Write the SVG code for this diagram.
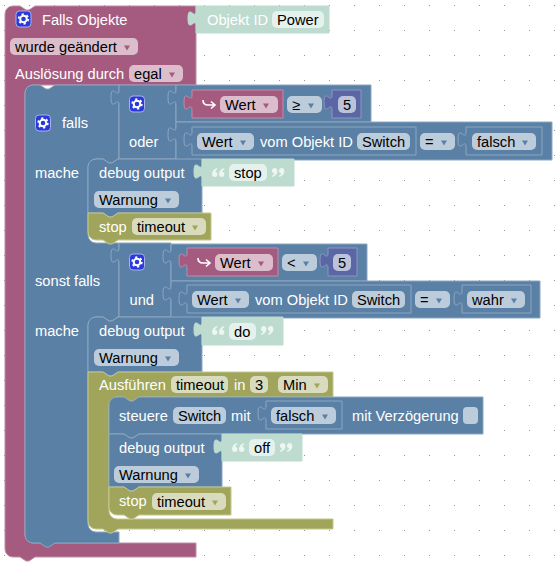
<svg xmlns="http://www.w3.org/2000/svg" xmlns:xlink="http://www.w3.org/1999/xlink" width="556" height="562" viewBox="0 0 556 562">
<style>
text{font-family:"Liberation Sans",Arial,sans-serif;font-size:14.67px}
.w{fill:#fff}.k{fill:#000}
.pu{fill:#a55b80;stroke:#c08ca6}.bl{fill:#5b80a5;stroke:#8ca6c0}.ol{fill:#a0a55b;stroke:#c4c88f}.mi{fill:#bddbcf;stroke:#bddbcf}.in{fill:#5b67a5;stroke:#8c96c0}
.fp{fill:#dbbdcc}.fb{fill:#bdccdb}.fo{fill:#d8dbbd}.fm{fill:#e5f1ec}.fi{fill:#bdc2db}
.ap{fill:#a55b80}.ab{fill:#5b80a5}.ao{fill:#a0a55b}
.arrow{fill:none;stroke:#fff;stroke-width:1.6}
.q{fill:#eef6f2}
</style>
<defs>
<pattern id="grid" width="25" height="25" patternUnits="userSpaceOnUse"><rect x="4" y="5" width="1" height="1" fill="#999"/></pattern>
<path id="tri" d="M-3,-2.500H3L0,2.500Z"/>
<g id="gear">
<rect x="-7.500" y="-8" width="15" height="16" rx="3.500" fill="#2a39dc" stroke="#a9b1ee"/>
<circle r="3.300" fill="none" stroke="#fff" stroke-width="2"/>
<circle r="4.800" fill="none" stroke="#fff" stroke-width="1.800" stroke-dasharray="2.200 2.830"/>
</g>
<path id="qo" d="M0,6.300C0,3 2,1 5,0L5.400,1.200C4,2 3.400,2.800 3.300,3.700A2.700,2.700 0 1 1 0,6.300ZM7,6.300C7,3 9,1 12,0L12.400,1.200C11,2 10.400,2.800 10.300,3.700A2.700,2.700 0 1 1 7,6.300Z"/>
<path id="qc" transform="rotate(180 6.200 4.500)" d="M0,6.300C0,3 2,1 5,0L5.400,1.200C4,2 3.400,2.800 3.300,3.700A2.700,2.700 0 1 1 0,6.300ZM7,6.300C7,3 9,1 12,0L12.400,1.200C11,2 10.400,2.800 10.300,3.700A2.700,2.700 0 1 1 7,6.300Z"/>
<path id="ret" class="arrow" d="M0,0q0,5 5,5H11.500M8,1.500L12,5 8,8.500"/>
</defs>
<rect width="556" height="562" fill="#fff"/>
<rect width="556" height="562" fill="url(#grid)"/>

<g id="falls-objekte">
<path class="pu" d="M5,14a8,8 0 0 1 8,-8H20l6,4 3,0 6,-4H196V85H33a8,8 0 0 0 -8,8V535a8,8 0 0 0 8,8H196V557H35l-6,4 -3,0 -6,-4H13a8,8 0 0 1 -8,-8Z"/>
<use href="#gear" x="23.500" y="19"/>
<text class="w" x="42" y="25">Falls Objekte</text>
<rect class="fp" x="10" y="38" width="128" height="17" rx="5"/>
<text class="k" x="15" y="52">wurde geändert</text>
<use href="#tri" class="ap" x="127" y="48"/>
<text class="w" x="15" y="79">Auslösung durch</text>
<rect class="fp" x="129" y="65" width="54" height="17" rx="5"/>
<text class="k" x="134" y="79">egal</text>
<use href="#tri" class="ap" x="172" y="75"/>
</g>
<g id="objekt-id-power">
<path class="mi" d="M196,6H329V33H196V26c0,-10 -8,8 -8,-7.500s8,2.500 8,-7.500Z"/>
<text class="w" x="207" y="25">Objekt ID</text>
<rect class="fm" x="272" y="11" width="52" height="17" rx="5"/>
<text class="k" x="277" y="25">Power</text>
</g>

<g id="falls-block">
<path class="bl" d="M25,93a8,8 0 0 1 8,-8H40l6,4 3,0 6,-4H119V159H118l-6,4 -3,0 -6,-4H96a8,8 0 0 0 -8,8V235a8,8 0 0 0 8,8H119V317H118l-6,4 -3,0 -6,-4H96a8,8 0 0 0 -8,8V524a8,8 0 0 0 8,8H119V543H55l-6,4 -3,0 -6,-4H33a8,8 0 0 1 -8,-8Z"/>
<use href="#gear" x="43" y="123"/>
<text class="w" x="62" y="128">falls</text>
<text class="w" x="35" y="178">mache</text>
<text class="w" x="35" y="286">sonst falls</text>
<text class="w" x="35" y="336">mache</text>
</g>

<g id="oder">
<path class="bl" d="M119,85H176V159H119V105c0,-10 -8,8 -8,-7.500s8,2.500 8,-7.500Z"/>
<use href="#gear" x="137" y="104"/>
<text class="w" x="129" y="147">oder</text>
</g>
<g id="vergleich-1">
<path class="bl" d="M176,85H371V122H176V105c0,-10 -8,8 -8,-7.500s8,2.500 8,-7.500Z"/>
<rect class="fb" x="287" y="96" width="35" height="17" rx="5"/>
<text class="k" x="292" y="110">≥</text>
<use href="#tri" class="ab" x="311" y="106"/>
</g>
<g id="wert-1">
<path class="pu" d="M192,90H283V118H192V110c0,-10 -8,8 -8,-7.500s8,2.500 8,-7.500Z"/>
<use href="#ret" x="203" y="100"/>
<rect class="fp" x="220" y="96" width="58" height="17" rx="5"/>
<text class="k" x="225" y="110">Wert</text>
<use href="#tri" class="ap" x="266" y="106"/>
</g>
<g id="zahl-1">
<path class="in" d="M332,90H361V118H332V110c0,-10 -8,8 -8,-7.500s8,2.500 8,-7.500Z"/>
<rect class="fi" x="338" y="96" width="18" height="17" rx="5"/>
<text class="k" x="343" y="110">5</text>
</g>
<g id="vergleich-2">
<path class="bl" d="M176,122H552V160H176V142c0,-10 -8,8 -8,-7.500s8,2.500 8,-7.500Z"/>
<rect class="fb" x="420" y="133" width="35" height="17" rx="5"/>
<text class="k" x="425" y="147">=</text>
<use href="#tri" class="ab" x="444" y="143"/>
</g>
<g id="wert-objekt-1">
<path class="bl" d="M192,127H416V155H192V147c0,-10 -8,8 -8,-7.500s8,2.500 8,-7.500Z"/>
<rect class="fb" x="197" y="133" width="57" height="17" rx="5"/>
<text class="k" x="202" y="147">Wert</text>
<use href="#tri" class="ab" x="243" y="143"/>
<text class="w" x="260" y="147">vom Objekt ID</text>
<rect class="fb" x="357" y="133" width="53" height="17" rx="5"/>
<text class="k" x="362" y="147">Switch</text>
</g>
<g id="falsch-1">
<path class="bl" d="M466,127H542V155H466V147c0,-10 -8,8 -8,-7.500s8,2.500 8,-7.500Z"/>
<rect class="fb" x="472" y="133" width="64" height="17" rx="5"/>
<text class="k" x="477" y="147">falsch</text>
<use href="#tri" class="ab" x="525" y="143"/>
</g>

<g id="debug-1">
<path class="bl" d="M88,167a8,8 0 0 1 8,-8H103l6,4 3,0 6,-4H202V213H118l-6,4 -3,0 -6,-4H88Z"/>
<text class="w" x="99" y="178">debug output</text>
<rect class="fb" x="94" y="191" width="85" height="17" rx="5"/>
<text class="k" x="99" y="205">Warnung</text>
<use href="#tri" class="ab" x="168" y="201"/>
</g>
<g id="text-stop">
<path class="mi" d="M202,159H294V186H202V179c0,-10 -8,8 -8,-7.500s8,2.500 8,-7.500Z"/>
<use href="#qo" class="q" x="212" y="168"/>
<rect class="fm" x="229" y="164" width="38" height="17" rx="5"/>
<text class="k" x="234" y="178">stop</text>
<use href="#qc" class="q" x="272" y="168"/>
</g>
<g id="stop-1">
<path class="ol" d="M88,213H103l6,4 3,0 6,-4H211V240H118l-6,4 -3,0 -6,-4H96a8,8 0 0 1 -8,-8Z"/>
<text class="w" x="99" y="232">stop</text>
<rect class="fo" x="132" y="218" width="74" height="17" rx="5"/>
<text class="k" x="137" y="232">timeout</text>
<use href="#tri" class="ao" x="195" y="228"/>
</g>

<g id="und">
<path class="bl" d="M119,243H171V317H119V263c0,-10 -8,8 -8,-7.500s8,2.500 8,-7.500Z"/>
<use href="#gear" x="137" y="262"/>
<text class="w" x="129.500" y="305">und</text>
</g>
<g id="vergleich-3">
<path class="bl" d="M171,244H367V281H171V264c0,-10 -8,8 -8,-7.500s8,2.500 8,-7.500Z"/>
<rect class="fb" x="282" y="254" width="35" height="17" rx="5"/>
<text class="k" x="287" y="268">&lt;</text>
<use href="#tri" class="ab" x="306" y="264"/>
</g>
<g id="wert-2">
<path class="pu" d="M187,248H278V276H187V268c0,-10 -8,8 -8,-7.500s8,2.500 8,-7.500Z"/>
<use href="#ret" x="198" y="258"/>
<rect class="fp" x="215" y="254" width="58" height="17" rx="5"/>
<text class="k" x="220" y="268">Wert</text>
<use href="#tri" class="ap" x="261" y="264"/>
</g>
<g id="zahl-2">
<path class="in" d="M328,248H357V276H328V268c0,-10 -8,8 -8,-7.500s8,2.500 8,-7.500Z"/>
<rect class="fi" x="333" y="254" width="18" height="17" rx="5"/>
<text class="k" x="338" y="268">5</text>
</g>
<g id="vergleich-4">
<path class="bl" d="M171,281H540V318H171V301c0,-10 -8,8 -8,-7.500s8,2.500 8,-7.500Z"/>
<rect class="fb" x="415" y="291" width="35" height="17" rx="5"/>
<text class="k" x="420" y="305">=</text>
<use href="#tri" class="ab" x="439" y="301"/>
</g>
<g id="wert-objekt-2">
<path class="bl" d="M187,285H411V313H187V306c0,-10 -8,8 -8,-7.500s8,2.500 8,-7.500Z"/>
<rect class="fb" x="192" y="291" width="57" height="17" rx="5"/>
<text class="k" x="197" y="305">Wert</text>
<use href="#tri" class="ab" x="238" y="301"/>
<text class="w" x="255" y="305">vom Objekt ID</text>
<rect class="fb" x="352" y="291" width="53" height="17" rx="5"/>
<text class="k" x="357" y="305">Switch</text>
</g>
<g id="wahr">
<path class="bl" d="M462,285H531V313H462V306c0,-10 -8,8 -8,-7.500s8,2.500 8,-7.500Z"/>
<rect class="fb" x="467" y="291" width="58" height="17" rx="5"/>
<text class="k" x="472" y="305">wahr</text>
<use href="#tri" class="ab" x="514" y="301"/>
</g>

<g id="debug-2">
<path class="bl" d="M88,325a8,8 0 0 1 8,-8H103l6,4 3,0 6,-4H202V372H118l-6,4 -3,0 -6,-4H88Z"/>
<text class="w" x="99" y="336">debug output</text>
<rect class="fb" x="94" y="349" width="85" height="17" rx="5"/>
<text class="k" x="99" y="363">Warnung</text>
<use href="#tri" class="ab" x="168" y="359"/>
</g>
<g id="text-do">
<path class="mi" d="M202,317H283V345H202V337c0,-10 -8,8 -8,-7.500s8,2.500 8,-7.500Z"/>
<use href="#qo" class="q" x="212" y="326"/>
<rect class="fm" x="229" y="323" width="27" height="17" rx="5"/>
<text class="k" x="234" y="337">do</text>
<use href="#qc" class="q" x="261" y="326"/>
</g>
<g id="ausfuehren">
<path class="ol" d="M88,372H103l6,4 3,0 6,-4H333V397H139l-6,4 -3,0 -6,-4H117a8,8 0 0 0 -8,8V511a8,8 0 0 0 8,8H333V529H118l-6,4 -3,0 -6,-4H96a8,8 0 0 1 -8,-8Z"/>
<text class="w" x="99" y="390">Ausführen</text>
<rect class="fo" x="171" y="376" width="57" height="17" rx="5"/>
<text class="k" x="176" y="390">timeout</text>
<text class="w" x="234" y="390">in</text>
<rect class="fo" x="250" y="376" width="18" height="17" rx="5"/>
<text class="k" x="255" y="390">3</text>
<rect class="fo" x="278" y="376" width="50" height="17" rx="5"/>
<text class="k" x="283" y="390">Min</text>
<use href="#tri" class="ao" x="317" y="386"/>
</g>
<g id="steuere">
<path class="bl" d="M109,405a8,8 0 0 1 8,-8H124l6,4 3,0 6,-4H483V434H139l-6,4 -3,0 -6,-4H109Z"/>
<text class="w" x="119" y="421">steuere</text>
<rect class="fb" x="173" y="407" width="53" height="17" rx="5"/>
<text class="k" x="178" y="421">Switch</text>
<text class="w" x="231" y="421">mit</text>
<text class="w" x="352" y="421">mit Verzögerung</text>
<rect class="fb" x="463" y="407" width="15" height="17" rx="4"/>
</g>
<g id="falsch-2">
<path class="bl" d="M266,401H342V429H266V421c0,-10 -8,8 -8,-7.500s8,2.500 8,-7.500Z"/>
<rect class="fb" x="271" y="407" width="65" height="17" rx="5"/>
<text class="k" x="276" y="421">falsch</text>
<use href="#tri" class="ab" x="325" y="417"/>
</g>
<g id="debug-3">
<path class="bl" d="M109,434H124l6,4 3,0 6,-4H222V487H139l-6,4 -3,0 -6,-4H109Z"/>
<text class="w" x="119" y="453">debug output</text>
<rect class="fb" x="114" y="466" width="85" height="17" rx="5"/>
<text class="k" x="119" y="480">Warnung</text>
<use href="#tri" class="ab" x="188" y="476"/>
</g>
<g id="text-off">
<path class="mi" d="M222,434H302V461H222V454c0,-10 -8,8 -8,-7.500s8,2.500 8,-7.500Z"/>
<use href="#qo" class="q" x="232" y="443"/>
<rect class="fm" x="249" y="439" width="26" height="17" rx="5"/>
<text class="k" x="254" y="453">off</text>
<use href="#qc" class="q" x="280" y="443"/>
</g>
<g id="stop-2">
<path class="ol" d="M109,487H124l6,4 3,0 6,-4H231V515H139l-6,4 -3,0 -6,-4H117a8,8 0 0 1 -8,-8Z"/>
<text class="w" x="119" y="506">stop</text>
<rect class="fo" x="152" y="493" width="74" height="17" rx="5"/>
<text class="k" x="157" y="507">timeout</text>
<use href="#tri" class="ao" x="215" y="503"/>
</g>
</svg>
